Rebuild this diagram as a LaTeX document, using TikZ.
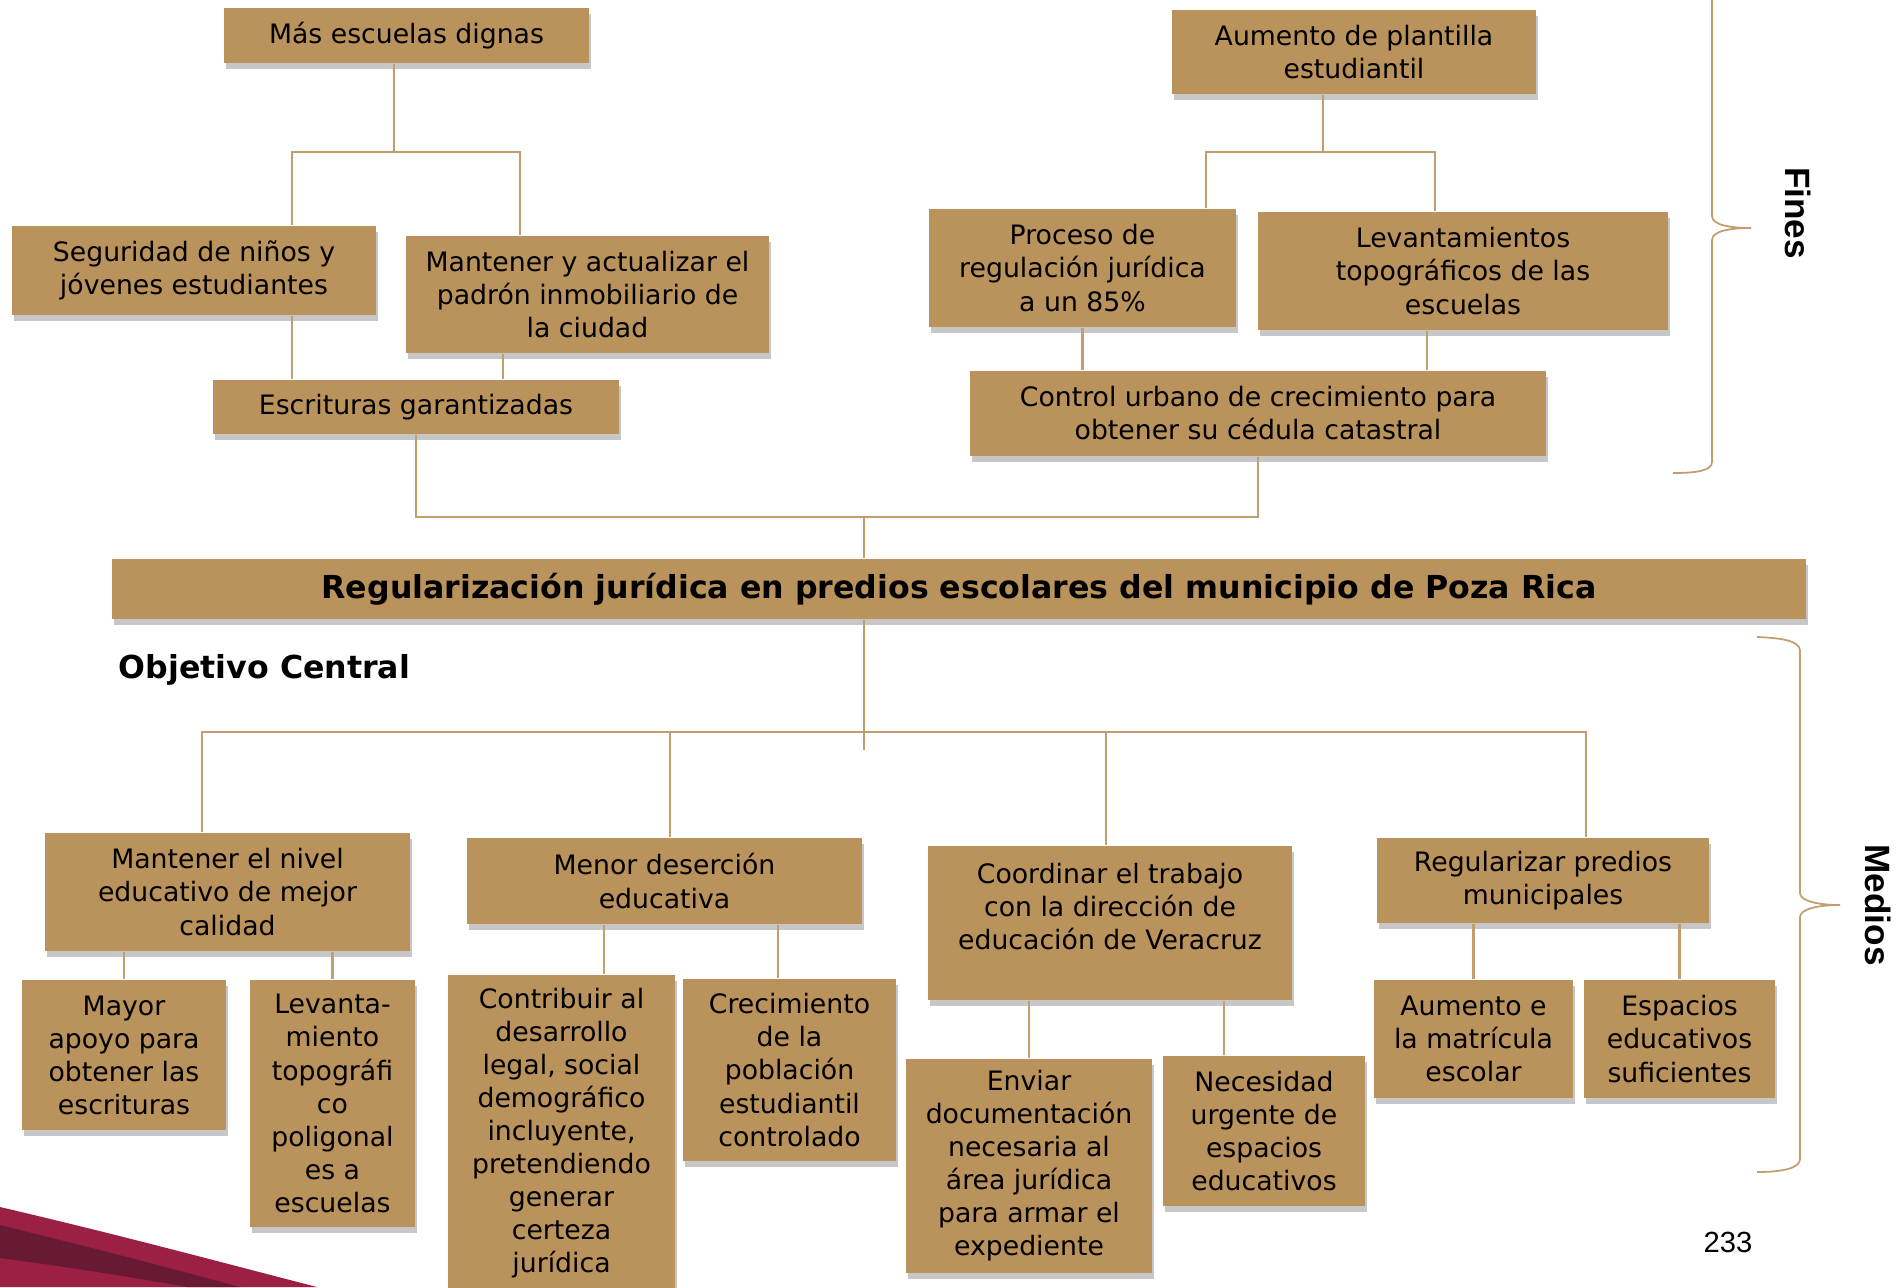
\documentclass[tikz,border=0pt]{standalone}
\usepackage{fontspec}
\setmainfont{DejaVu Sans}
\newfontfamily\arialfont{Liberation Sans}
\usetikzlibrary{shadows}
\definecolor{ocre}{HTML}{BA935C}
\definecolor{cafe}{HTML}{C19E6E}
\definecolor{carmin}{HTML}{9C2043}
\definecolor{vino}{HTML}{681A33}
\begin{document}
\begin{tikzpicture}[
    caja/.style={fill=ocre, inner sep=0pt, align=center, font=\fontsize{7.6}{9.4}\selectfont,
      drop shadow={shadow xshift=0.5pt, shadow yshift=-1.8pt, fill=black, opacity=0.22}},
    linea/.style={draw=cafe, line width=0.6pt},
    llave/.style={draw=cafe, line width=0.5pt},
    lado/.style={rotate=-90, font=\arialfont\bfseries\fontsize{10}{12}\selectfont}
  ]
  \useasboundingbox (0,0) rectangle (18.97,-12.87);

  % Franjas de la esquina
  \fill[carmin] (0,-12.07) .. controls (1.2,-12.35) and (2.2,-12.62) .. (3.17,-12.87) -- (0,-12.87) -- cycle;
  \fill[vino] (0,-12.25) .. controls (0.9,-12.47) and (1.7,-12.68) .. (2.40,-12.87) -- (1.87,-12.87)
    .. controls (1.2,-12.75) and (0.6,-12.66) .. (0,-12.58) -- cycle;

  % Fines
  \node[caja, minimum width=3.65cm, minimum height=0.55cm] (dignas) at (4.065,-0.355) {Más escuelas dignas};
  \node[caja, minimum width=3.64cm, minimum height=0.84cm] (plantilla) at (13.54,-0.52) {Aumento de plantilla\\estudiantil};
  \node[caja, minimum width=3.64cm, minimum height=0.89cm] (seguridad) at (1.94,-2.705) {Seguridad de niños y\\jóvenes estudiantes};
  \node[caja, minimum width=3.63cm, minimum height=1.17cm] (padron) at (5.875,-2.945) {Mantener y actualizar el\\padrón inmobiliario de\\la ciudad};
  \node[caja, minimum width=4.06cm, minimum height=0.54cm] (escrituras) at (4.16,-4.07) {Escrituras garantizadas};
  \node[caja, minimum width=3.07cm, minimum height=1.18cm] (proceso) at (10.825,-2.68) {Proceso de\\regulación jurídica\\a un 85\%};
  \node[caja, minimum width=4.10cm, minimum height=1.18cm] (topograf) at (14.63,-2.71) {Levantamientos\\topográficos de las\\escuelas};
  \node[caja, minimum width=5.76cm, minimum height=0.85cm] (control) at (12.58,-4.135) {Control urbano de crecimiento para\\obtener su cédula catastral};

  % Objetivo central
  \node[caja, minimum width=16.94cm, minimum height=0.60cm, font=\bfseries\fontsize{9}{11}\selectfont] (objetivo) at (9.59,-5.89)
    {Regularización jurídica en predios escolares del municipio de Poza Rica};
  \node[font=\bfseries\fontsize{9}{11}\selectfont, inner sep=0pt] (central) at (2.645,-6.70) {Objetivo Central};

  % Medios
  \node[caja, minimum width=3.65cm, minimum height=1.18cm] (nivel) at (2.275,-8.92) {Mantener el nivel\\educativo de mejor\\calidad};
  \node[caja, minimum width=3.95cm, minimum height=0.86cm] (desercion) at (6.645,-8.81) {Menor deserción\\educativa};
  \node[caja, minimum width=3.64cm, minimum height=1.54cm] (coordinar) at (11.10,-9.23) {Coordinar el trabajo\\con la dirección de\\educación de Veracruz\\\mbox{}};
  \node[caja, minimum width=3.32cm, minimum height=0.85cm] (predios) at (15.43,-8.805) {Regularizar predios\\municipales};
  \node[caja, minimum width=2.04cm, minimum height=1.50cm] (apoyo) at (1.24,-10.55) {Mayor\\apoyo para\\obtener las\\escrituras};
  \node[caja, minimum width=1.65cm, minimum height=2.47cm] (levanta) at (3.325,-11.035) {Levanta-\\miento\\topográfi\\co\\poligonal\\es a\\escuelas};
  \node[caja, minimum width=2.27cm, minimum height=3.16cm] (contribuir) at (5.615,-11.33) {Contribuir al\\desarrollo\\legal, social\\demográfico\\incluyente,\\pretendiendo\\generar\\certeza\\jurídica};
  \node[caja, minimum width=2.13cm, minimum height=1.82cm] (crecimiento) at (7.895,-10.70) {Crecimiento\\de la\\población\\estudiantil\\controlado};
  \node[caja, minimum width=2.46cm, minimum height=2.14cm] (enviar) at (10.29,-11.66) {Enviar\\documentación\\necesaria al\\área jurídica\\para armar el\\expediente};
  \node[caja, minimum width=2.02cm, minimum height=1.50cm] (necesidad) at (12.64,-11.31) {Necesidad\\urgente de\\espacios\\educativos};
  \node[caja, minimum width=1.99cm, minimum height=1.18cm] (matricula) at (14.735,-10.39) {Aumento e\\la matrícula\\escolar};
  \node[caja, minimum width=1.91cm, minimum height=1.18cm] (espacios) at (16.795,-10.39) {Espacios\\educativos\\suficientes};

  % Uniones de arriba
  \coordinate (jA) at (3.94,-1.52);
  \coordinate (jB) at (13.23,-1.52);
  \coordinate (jC) at (8.64,-5.17);
  \draw[linea] (dignas.south -| jA) -- (jA);
  \draw[linea] ([xshift=0.98cm]seguridad.north) |- (jA) -| ([xshift=-0.675cm]padron.north);
  \draw[linea] ([xshift=0.98cm]seguridad.south) -- ([xshift=0.98cm]seguridad.south |- escrituras.north);
  \draw[linea] ([xshift=-0.845cm]padron.south) -- ([xshift=-0.845cm]padron.south |- escrituras.north);
  \draw[linea] (plantilla.south -| jB) -- (jB);
  \draw[linea] ([xshift=1.235cm]proceso.north) |- (jB) -| ([xshift=-0.28cm]topograf.north);
  \draw[linea] (proceso.south) -- (proceso.south |- control.north);
  \draw[linea] ([xshift=-0.36cm]topograf.south) -- ([xshift=-0.36cm]topograf.south |- control.north);
  \draw[linea] (escrituras.south) |- (jC) -| (control.south);
  \draw[linea] (jC) -- (objetivo.north -| jC);

  % Uniones de abajo
  \coordinate (jD) at (8.64,-7.32);
  \coordinate (jE) at (8.64,-7.50);
  \draw[linea] (objetivo.south -| jD) -- (jE);
  \draw[linea] ([xshift=-0.255cm]nivel.north) |- (jD) -| ([xshift=0.43cm]predios.north);
  \draw[linea] ([xshift=0.055cm]desercion.north) -- ([xshift=0.055cm]desercion.north |- jD);
  \draw[linea] ([xshift=-0.04cm]coordinar.north) -- ([xshift=-0.04cm]coordinar.north |- jD);
  \draw[linea] (apoyo.north) -- (apoyo.north |- nivel.south);
  \draw[linea] (levanta.north) -- (levanta.north |- nivel.south);
  \draw[linea] ([xshift=0.425cm]contribuir.north) -- ([xshift=0.425cm]contribuir.north |- desercion.south);
  \draw[linea] ([xshift=-0.115cm]crecimiento.north) -- ([xshift=-0.115cm]crecimiento.north |- desercion.south);
  \draw[linea] (enviar.north) -- (enviar.north |- coordinar.south);
  \draw[linea] ([xshift=-0.40cm]necesidad.north) -- ([xshift=-0.40cm]necesidad.north |- coordinar.south);
  \draw[linea] (matricula.north) -- (matricula.north |- predios.south);
  \draw[linea] (espacios.north) -- (espacios.north |- predios.south);

  % Llaves
  \draw[llave] (17.12,0.10) -- (17.12,-2.16) .. controls (17.12,-2.25) and (17.30,-2.28) .. (17.51,-2.28)
    .. controls (17.30,-2.28) and (17.12,-2.31) .. (17.12,-2.40) -- (17.12,-4.62)
    .. controls (17.12,-4.71) and (16.95,-4.73) .. (16.73,-4.73);
  \draw[llave] (17.57,-6.37) .. controls (17.83,-6.38) and (18.00,-6.41) .. (18.00,-6.51) -- (18.00,-8.93)
    .. controls (18.00,-9.01) and (18.18,-9.05) .. (18.40,-9.05)
    .. controls (18.18,-9.05) and (18.00,-9.09) .. (18.00,-9.17) -- (18.00,-11.59)
    .. controls (18.00,-11.68) and (17.83,-11.72) .. (17.57,-11.72);
  \node[lado] (fines) at (17.98,-2.13) {Fines};
  \node[lado] (medios) at (18.78,-9.05) {Medios};

  % Numero de pagina
  \node[font=\arialfont\fontsize{8.3}{10}\selectfont] (pagina) at (17.28,-12.42) {233};
\end{tikzpicture}
\end{document}
